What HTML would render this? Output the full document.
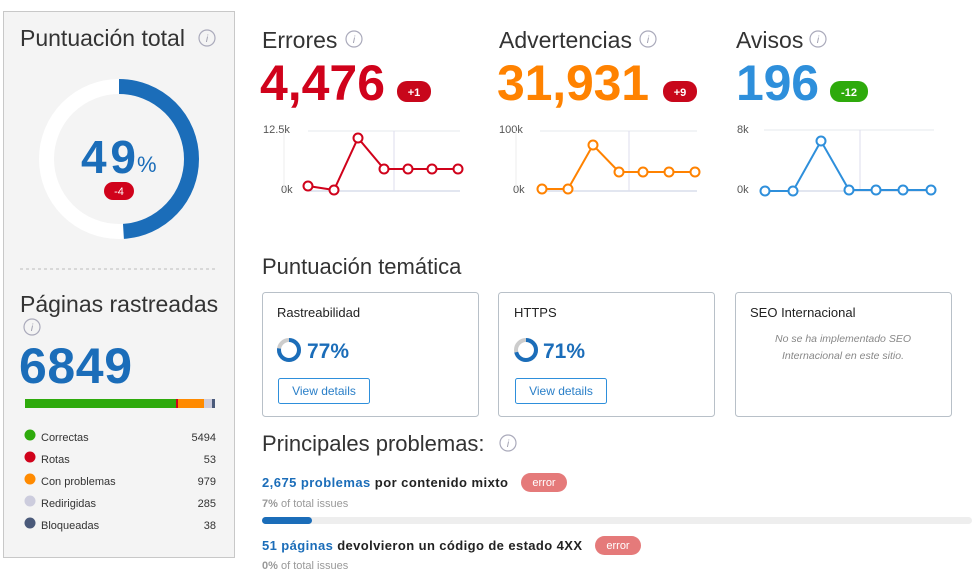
<!DOCTYPE html>
<html><head><meta charset="utf-8"><style>
html,body{margin:0;padding:0;background:#fff;}
svg{display:block;font-family:"Liberation Sans",sans-serif;}
</style></head><body>
<svg width="980" height="577" viewBox="0 0 980 577" xmlns="http://www.w3.org/2000/svg">
<rect x="3.5" y="11.5" width="231" height="546" fill="#f4f4f4" stroke="#c8c8c8"/>
<text x="20" y="46" font-size="23" fill="#333">Puntuación total</text>
<circle cx="207" cy="38" r="8" fill="none" stroke="#aab" stroke-width="1.2"/><text x="207" y="42" font-size="10" font-style="italic" fill="#99a" text-anchor="middle">i</text>
<circle cx="119" cy="159" r="72.5" fill="none" stroke="#fff" stroke-width="15"/>
<circle cx="119" cy="159" r="72.5" fill="none" stroke="#1b6db9" stroke-width="15" stroke-dasharray="223.2 500" transform="rotate(-90 119 159)"/>
<text x="81" y="173" font-size="46" font-weight="bold" fill="#1b6db9" textLength="55">49</text>
<text x="137" y="172" font-size="22" fill="#1b6db9">%</text>
<rect x="104" y="182" width="30" height="18" rx="9" fill="#d0021b"/><text x="119" y="195" font-size="11" fill="#fff" text-anchor="middle">-4</text>
<line x1="20" y1="269" x2="218" y2="269" stroke="#bbb" stroke-dasharray="3 3"/>
<text x="20" y="312" font-size="23" fill="#333">Páginas rastreadas</text>
<circle cx="32" cy="327" r="8" fill="none" stroke="#aab" stroke-width="1.2"/><text x="32" y="331" font-size="10" font-style="italic" fill="#99a" text-anchor="middle">i</text>
<text x="19" y="383" font-size="50" font-weight="bold" fill="#1b6db9" textLength="113">6849</text>
<rect x="25" y="399" width="151" height="9" fill="#2eaa0c"/>
<rect x="176" y="399" width="2" height="9" fill="#d0021b"/>
<rect x="178" y="399" width="26" height="9" fill="#ff8a00"/>
<rect x="204" y="399" width="8" height="9" fill="#ccd"/>
<rect x="212" y="399" width="3" height="9" fill="#4a5a7a"/>
<g font-size="11" fill="#333">
<circle cx="30" cy="435" r="5.5" fill="#2eaa0c"/><text x="41" y="441">Correctas</text><text x="216" y="441" text-anchor="end">5494</text>
<circle cx="30" cy="457" r="5.5" fill="#d0021b"/><text x="41" y="463">Rotas</text><text x="216" y="463" text-anchor="end">53</text>
<circle cx="30" cy="479" r="5.5" fill="#ff8a00"/><text x="41" y="485">Con problemas</text><text x="216" y="485" text-anchor="end">979</text>
<circle cx="30" cy="501" r="5.5" fill="#ccd"/><text x="41" y="507">Redirigidas</text><text x="216" y="507" text-anchor="end">285</text>
<circle cx="30" cy="523" r="5.5" fill="#4a5a7a"/><text x="41" y="529">Bloqueadas</text><text x="216" y="529" text-anchor="end">38</text>
</g>

<text x="262" y="48" font-size="23" fill="#333">Errores</text>
<circle cx="354" cy="39" r="8" fill="none" stroke="#aab" stroke-width="1.2"/><text x="354" y="43" font-size="10" font-style="italic" fill="#99a" text-anchor="middle">i</text>
<text x="260" y="100" font-size="50" font-weight="bold" fill="#d0021b" textLength="125">4,476</text>
<rect x="397" y="81" width="34" height="21" rx="10" fill="#c8071b"/><text x="414" y="96" font-size="11" font-weight="bold" fill="#fff" text-anchor="middle">+1</text>
<text x="263" y="133" font-size="11" fill="#555">12.5k</text><text x="281" y="193" font-size="11" fill="#555">0k</text>
<line x1="308" y1="131" x2="460" y2="131" stroke="#e6e8ee"/><line x1="308" y1="191" x2="460" y2="191" stroke="#c6cde0"/>
<line x1="284" y1="131" x2="284" y2="191" stroke="#eee"/><line x1="394" y1="131" x2="394" y2="191" stroke="#dde"/>
<polyline points="308,186 334,190 358,138 384,169 408,169 432,169 458,169" fill="none" stroke="#d0021b" stroke-width="2"/>
<g fill="#fff" stroke="#d0021b" stroke-width="2"><circle cx="308" cy="186" r="4.5"/><circle cx="334" cy="190" r="4.5"/><circle cx="358" cy="138" r="4.5"/><circle cx="384" cy="169" r="4.5"/><circle cx="408" cy="169" r="4.5"/><circle cx="432" cy="169" r="4.5"/><circle cx="458" cy="169" r="4.5"/></g>

<text x="499" y="48" font-size="23" fill="#333">Advertencias</text>
<circle cx="648" cy="39" r="8" fill="none" stroke="#aab" stroke-width="1.2"/><text x="648" y="43" font-size="10" font-style="italic" fill="#99a" text-anchor="middle">i</text>
<text x="497" y="100" font-size="50" font-weight="bold" fill="#ff8200" textLength="152">31,931</text>
<rect x="663" y="81" width="34" height="21" rx="10" fill="#c8071b"/><text x="680" y="96" font-size="11" font-weight="bold" fill="#fff" text-anchor="middle">+9</text>
<text x="499" y="133" font-size="11" fill="#555">100k</text><text x="513" y="193" font-size="11" fill="#555">0k</text>
<line x1="540" y1="131" x2="697" y2="131" stroke="#e6e8ee"/><line x1="540" y1="191" x2="697" y2="191" stroke="#c6cde0"/>
<line x1="516" y1="131" x2="516" y2="191" stroke="#eee"/><line x1="629" y1="131" x2="629" y2="191" stroke="#dde"/>
<polyline points="542,189 568,189 593,145 619,172 643,172 669,172 695,172" fill="none" stroke="#ff8200" stroke-width="2"/>
<g fill="#fff" stroke="#ff8200" stroke-width="2"><circle cx="542" cy="189" r="4.5"/><circle cx="568" cy="189" r="4.5"/><circle cx="593" cy="145" r="4.5"/><circle cx="619" cy="172" r="4.5"/><circle cx="643" cy="172" r="4.5"/><circle cx="669" cy="172" r="4.5"/><circle cx="695" cy="172" r="4.5"/></g>

<text x="736" y="48" font-size="23" fill="#333">Avisos</text>
<circle cx="818" cy="39" r="8" fill="none" stroke="#aab" stroke-width="1.2"/><text x="818" y="43" font-size="10" font-style="italic" fill="#99a" text-anchor="middle">i</text>
<text x="736" y="100" font-size="50" font-weight="bold" fill="#2e8fdb" textLength="83">196</text>
<rect x="830" y="81" width="38" height="21" rx="10" fill="#2eaa0c"/><text x="849" y="96" font-size="11" font-weight="bold" fill="#fff" text-anchor="middle">-12</text>
<line x1="764" y1="130" x2="934" y2="130" stroke="#e6e8ee"/><line x1="764" y1="191" x2="934" y2="191" stroke="#c6cde0"/>
<line x1="860" y1="130" x2="860" y2="191" stroke="#dde"/>
<text x="737" y="133" font-size="11" fill="#555">8k</text><text x="737" y="193" font-size="11" fill="#555">0k</text>
<polyline points="765,191 793,191 821,141 849,190 876,190 903,190 931,190" fill="none" stroke="#2e8fdb" stroke-width="2"/>
<g fill="#fff" stroke="#2e8fdb" stroke-width="2"><circle cx="765" cy="191" r="4.5"/><circle cx="793" cy="191" r="4.5"/><circle cx="821" cy="141" r="4.5"/><circle cx="849" cy="190" r="4.5"/><circle cx="876" cy="190" r="4.5"/><circle cx="903" cy="190" r="4.5"/><circle cx="931" cy="190" r="4.5"/></g>

<text x="262" y="274" font-size="22" fill="#333">Puntuación temática</text>
<rect x="262.5" y="292.5" width="216" height="124" rx="3" fill="#fff" stroke="#b8c0c8"/>
<rect x="498.5" y="292.5" width="216" height="124" rx="3" fill="#fff" stroke="#b8c0c8"/>
<rect x="735.5" y="292.5" width="216" height="124" rx="3" fill="#fff" stroke="#b8c0c8"/>
<text x="277" y="317" font-size="13" fill="#222">Rastreabilidad</text>
<text x="514" y="317" font-size="13" fill="#222">HTTPS</text>
<text x="750" y="317" font-size="13" fill="#222">SEO Internacional</text>
<circle cx="289" cy="350" r="10" fill="none" stroke="#ccc" stroke-width="4"/>
<circle cx="289" cy="350" r="10" fill="none" stroke="#1b6db9" stroke-width="4" stroke-dasharray="48.4 100" transform="rotate(-90 289 350)"/>
<text x="307" y="358" font-size="21" font-weight="bold" fill="#1b6db9">77%</text>
<circle cx="526" cy="350" r="10" fill="none" stroke="#ccc" stroke-width="4"/>
<circle cx="526" cy="350" r="10" fill="none" stroke="#1b6db9" stroke-width="4" stroke-dasharray="44.6 100" transform="rotate(-90 526 350)"/>
<text x="543" y="358" font-size="21" font-weight="bold" fill="#1b6db9">71%</text>
<rect x="278.5" y="378.5" width="91" height="25" rx="2" fill="#fff" stroke="#2e8fdb"/><text x="324" y="395" font-size="12" fill="#2a7fc8" text-anchor="middle">View details</text>
<rect x="515.5" y="378.5" width="91" height="25" rx="2" fill="#fff" stroke="#2e8fdb"/><text x="561" y="395" font-size="12" fill="#2a7fc8" text-anchor="middle">View details</text>
<text x="843" y="342" font-size="10.5" font-style="italic" fill="#888" text-anchor="middle">No se ha implementado SEO</text>
<text x="843" y="359" font-size="10.5" font-style="italic" fill="#888" text-anchor="middle">Internacional en este sitio.</text>

<text x="262" y="451" font-size="22" fill="#333">Principales problemas:</text>
<circle cx="508" cy="443" r="8" fill="none" stroke="#aab" stroke-width="1.2"/><text x="508" y="447" font-size="10" font-style="italic" fill="#99a" text-anchor="middle">i</text>
<text x="262" y="487" font-size="13" font-weight="bold" fill="#222" textLength="246"><tspan fill="#1b6db9">2,675 problemas</tspan> por contenido mixto</text>
<rect x="521" y="473" width="46" height="19" rx="9.5" fill="#e57a7a"/><text x="544" y="486" font-size="11" fill="#fff" text-anchor="middle">error</text>
<text x="262" y="507" font-size="11" fill="#999"><tspan font-weight="bold">7%</tspan> of total issues</text>
<rect x="262" y="517" width="710" height="7" rx="3.5" fill="#eeeeee"/>
<rect x="262" y="517" width="50" height="7" rx="3.5" fill="#1b6db9"/>
<text x="262" y="550" font-size="13" font-weight="bold" fill="#222" textLength="320"><tspan fill="#1b6db9">51 páginas</tspan> devolvieron un código de estado 4XX</text>
<rect x="595" y="536" width="46" height="19" rx="9.5" fill="#e57a7a"/><text x="618" y="549" font-size="11" fill="#fff" text-anchor="middle">error</text>
<text x="262" y="569" font-size="11" fill="#999"><tspan font-weight="bold">0%</tspan> of total issues</text>
</svg>
</body></html>
